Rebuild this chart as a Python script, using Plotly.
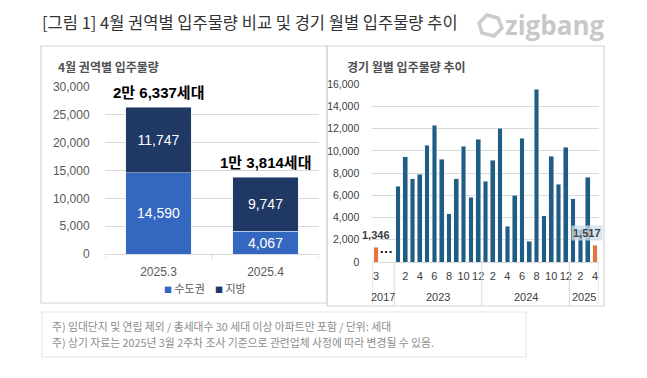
import plotly.graph_objects as go

W, H = 647, 378
OFF = 8  # page body margin offset of the plot div
def X(p): return (p - OFF) / W
def Y(p): return 1 - (p - OFF) / H

FONT = "Liberation Sans, Noto Sans CJK KR, sans-serif"
KFONT = "Noto Sans CJK KR, Liberation Sans, sans-serif"

# ---------------- data ----------------
title_text = "[그림 1] 4월 권역별 입주물량 비교 및 경기 월별 입주물량 추이"
left_title = "4월 권역별 입주물량"
right_title = "경기 월별 입주물량 추이"

left_cats = ["2025.3", "2025.4"]
metro_name, region_name = "수도권", "지방"
metro = [14590, 4067]
region = [11747, 9747]

# right chart slots (2017.3, two gap slots, 2023.1 ... 2025.4)
slot_labels = ["3", "", "",
               "1", "2", "3", "4", "5", "6", "7", "8", "9", "10", "11", "12",
               "1", "2", "3", "4", "5", "6", "7", "8", "9", "10", "11", "12",
               "1", "2", "3", "4"]
year_groups = ["2017", "2023", "2024", "2025"]
year_sizes = [3, 12, 12, 4]

gg_2023 = [6830, 9470, 7490, 7880, 10530, 12330, 9260, 4360, 7490, 10410, 5830, 11070]
gg_2024 = [7280, 9140, 12060, 3220, 6020, 11160, 1860, 15550, 4150, 9530, 7010, 10350]
gg_2025 = [5680, 2900, 7640]
gg_2017_3 = 1346
gg_2025_4 = 1517

C_METRO = "#3467c0"
C_REGION = "#1f3864"
C_BAR = "#1f5d85"
C_ORANGE = "#e8733a"
GRID = "#d9d9d9"

fig = go.Figure()

# ---------------- left chart ----------------
lx = list(range(len(left_cats)))
fig.add_trace(go.Bar(
    x=lx, y=metro, name=metro_name, marker_color=C_METRO, width=0.61,
    text=[f"{v:,}" for v in metro], textposition="inside", insidetextanchor="middle",
    textfont=dict(color="white", size=14, family=FONT), xaxis="x", yaxis="y",
    showlegend=False, constraintext="none"))
fig.add_trace(go.Bar(
    x=lx, y=region, name=region_name, marker_color=C_REGION, width=0.61,
    text=[f"{v:,}" for v in region], textposition="inside", insidetextanchor="middle",
    textfont=dict(color="white", size=14, family=FONT), xaxis="x", yaxis="y",
    showlegend=False, constraintext="none"))

totals = [a + b for a, b in zip(metro, region)]
annotations = []
for i, t in zip(lx, totals):
    annotations.append(dict(
        x=i, y=t, xref="x", yref="y", xanchor="center", yanchor="bottom", yshift=4,
        showarrow=False, text=f"<b>{t // 10000}만 {t % 10000:,}세대</b>",
        font=dict(size=15, color="#000000", family=FONT)))

shapes = []
# category boundary ticks on left axis
for b in [-0.5, 0.5, 1.5]:
    shapes.append(dict(type="line", xref="x", yref="paper", x0=b, x1=b,
                       y0=Y(254), y1=Y(259), line=dict(color=GRID, width=1)))

# ---------------- right chart ----------------
idx = list(range(len(slot_labels)))
blue_x = idx[3:30]
blue_y = gg_2023 + gg_2024 + gg_2025
fig.add_trace(go.Bar(x=blue_x, y=blue_y, marker_color=C_BAR, width=0.64,
                     xaxis="x2", yaxis="y2", showlegend=False))
fig.add_trace(go.Bar(x=[idx[0], idx[30]], y=[gg_2017_3, gg_2025_4], marker_color=C_ORANGE,
                     width=0.64, xaxis="x2", yaxis="y2", showlegend=False))

tickvals = [i for i, m in enumerate(slot_labels) if m and (i == 0 or int(m) % 2 == 0)]
ticktext = [slot_labels[i] for i in tickvals]

annotations.append(dict(x=idx[0], y=gg_2017_3, xref="x2", yref="y2", xanchor="center",
                        yanchor="bottom", yshift=4, showarrow=False, text=f"<b>{gg_2017_3:,}</b>",
                        font=dict(size=11, color="#404040", family=FONT)))
annotations.append(dict(x=28.9, y=gg_2025_4, xref="x2", yref="y2", xanchor="center",
                        yanchor="bottom", yshift=4, showarrow=False, text=f"<b>{gg_2025_4:,}</b>",
                        bgcolor="rgba(205,222,234,0.78)", borderpad=1,
                        font=dict(size=11, color="#404040", family=FONT)))
annotations.append(dict(x=1.5, y=0, xref="x2", yref="y2", xanchor="center", yanchor="bottom",
                        yshift=1, showarrow=False, text="<b>···</b>",
                        font=dict(size=13, color="#000000", family=FONT)))

# year group labels and separators
start = -0.5
for yname, n in zip(year_groups, year_sizes):
    annotations.append(dict(x=start + n / 2, y=Y(297), xref="x2", yref="paper", xanchor="center",
                            yanchor="middle", showarrow=False, text=yname,
                            font=dict(size=11, color="#404040", family=FONT)))
    shapes.append(dict(type="line", xref="x2", yref="paper", x0=start, x1=start,
                       y0=Y(262), y1=Y(306), line=dict(color=GRID, width=1)))
    start += n
shapes.append(dict(type="line", xref="x2", yref="paper", x0=start, x1=start,
                   y0=Y(262), y1=Y(306), line=dict(color=GRID, width=1)))

# panels
shapes.append(dict(type="rect", xref="paper", yref="paper", x0=X(41), x1=X(327), y0=Y(303), y1=Y(46),
                   line=dict(color="#d4d4d4", width=1.2)))
shapes.append(dict(type="rect", xref="paper", yref="paper", x0=X(327), x1=X(604), y0=Y(306), y1=Y(46),
                   line=dict(color="#d4d4d4", width=1.2)))
shapes.append(dict(type="rect", xref="paper", yref="paper", x0=X(42), x1=X(526), y0=Y(357), y1=Y(312),
                   line=dict(color="#e6e6e6", width=1.2)))

# zigbang logo icon (outline)
pts = [(479, 23), (487, 15), (498, 18), (502, 28), (494, 36), (482, 33)]
path = "M " + " L ".join(f"{X(px):.5f},{Y(py):.5f}" for px, py in pts) + " Z"
shapes.append(dict(type="path", xref="paper", yref="paper", path=path,
                   line=dict(color="#cccccc", width=3.5)))

# texts
def txt(x, y, text, size, color, family=KFONT, anchor="left"):
    return dict(x=X(x), y=Y(y), xref="paper", yref="paper", xanchor=anchor, yanchor="middle",
                showarrow=False, text=text, font=dict(size=size, color=color, family=family))

annotations += [
    txt(40, 22, title_text, 16.5, "#333333"),
    txt(607, 25, "<b>zigbang</b>", 26, "#c8c8c8", "Open Sans, sans-serif", "right"),
    txt(56, 66, f"<b>{left_title}</b>", 12, "#505050"),
    txt(345, 66, f"<b>{right_title}</b>", 12, "#505050"),
    txt(162, 288, f"<span style='color:{C_METRO};font-size:8px'>■</span> {metro_name}", 11, "#595959"),
    txt(213, 288, f"<span style='color:{C_REGION};font-size:8px'>■</span> {region_name}", 11, "#595959"),
    txt(50, 326, "주) 임대단지 및 연립 제외 / 총세대수 30 세대 이상 아파트만 포함 / 단위: 세대", 10.8, "#8c8c8c"),
    txt(50, 342, "주) 상기 자료는 2025년 3월 2주차 조사 기준으로 관련업체 사정에 따라 변경될 수 있음.", 10.8, "#8c8c8c"),
]

fig.update_layout(
    width=W, height=H, margin=dict(l=0, r=0, t=0, b=0, autoexpand=False),
    paper_bgcolor="white", plot_bgcolor="white", barmode="stack", showlegend=False,
    font=dict(family=FONT),
    xaxis=dict(domain=[X(105), X(319)], range=[-0.5, 1.5], autorange=False, showline=True,
               linecolor=GRID, tickmode="array", tickvals=lx, ticktext=left_cats,
               ticks="outside", ticklen=7, tickcolor="rgba(0,0,0,0)", automargin=False,
               tickfont=dict(size=12, color="#595959"), showgrid=False, zeroline=False),
    yaxis=dict(domain=[Y(254), Y(87)], range=[0, 30000], dtick=5000, tickformat=",",
               showgrid=True, gridcolor=GRID, zeroline=False, ticks="outside", ticklen=12,
               tickcolor="rgba(0,0,0,0)", tickfont=dict(size=12, color="#595959"), automargin=False),
    xaxis2=dict(domain=[X(372.35), X(598.65)], range=[-0.5, 30.5], autorange=False, showline=True,
                linecolor=GRID, tickmode="array", tickvals=tickvals, ticktext=ticktext,
                showgrid=False, zeroline=False, ticks="outside", ticklen=4,
                tickcolor="rgba(0,0,0,0)", tickfont=dict(size=11, color="#404040"),
                anchor="y2", automargin=False),
    yaxis2=dict(domain=[Y(262), Y(84.3)], range=[0, 16000], dtick=2000, tickformat=",",
                showgrid=True, gridcolor=GRID, zeroline=False, ticks="outside", ticklen=10,
                tickcolor="rgba(0,0,0,0)", tickfont=dict(size=10.5, color="#404040"),
                anchor="x2", automargin=False),
    annotations=annotations, shapes=shapes,
)

fig.write_html("out.html")
